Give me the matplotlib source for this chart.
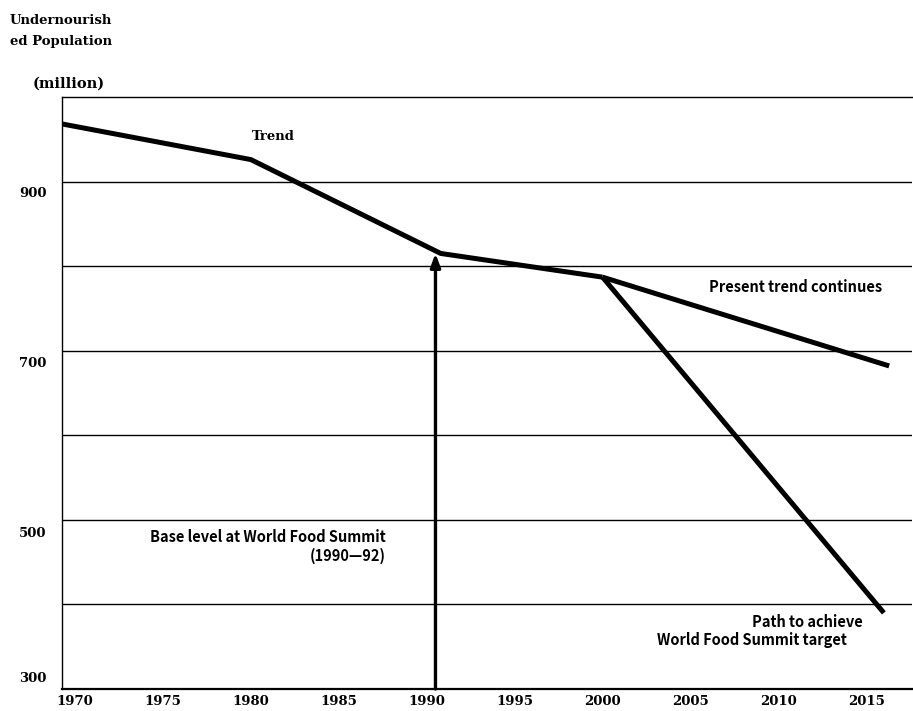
import matplotlib
matplotlib.use("Agg")
from matplotlib import pyplot as plt
from matplotlib.transforms import ScaledTranslation
import numpy as np

# data
trend_years = [1969.3, 1980, 1990.8, 2000]
trend_values = [968, 926, 815, 787]
present_years = [2000, 2016.3]
present_values = [787, 682]
target_years = [2000, 2016.0]
target_values = [787, 390]
base_year = 1990.5
base_value = 815

x_ticks = [1970, 1975, 1980, 1985, 1990, 1995, 2000, 2005, 2010, 2015]
y_ticks = [300, 500, 700, 900]
grid_levels = [400, 500, 600, 700, 800, 900]

serif = {"family": "DejaVu Serif", "weight": "bold", "size": 9.5}
sans = {"family": ["Noto Sans CJK SC", "DejaVu Sans"], "weight": "bold", "size": 10.5}

fig = plt.figure(figsize=(9.13, 7.11), dpi=100)
ax = fig.add_axes([62 / 913, 22 / 711, 850 / 913, 592 / 711])
ax.set_xlim(1969.26, 2017.6)
ax.set_ylim(300, 1000)

for lvl in grid_levels:
    ax.axhline(lvl, color="black", lw=1.0, zorder=1)

ax.plot(trend_years, trend_values, color="black", lw=3.6, solid_capstyle="butt", zorder=3)
ax.plot(present_years, present_values, color="black", lw=3.6, solid_capstyle="butt", zorder=3)
ax.plot(target_years, target_values, color="black", lw=3.6, solid_capstyle="butt", zorder=3)

ax.annotate("", xy=(base_year, base_value), xytext=(base_year, 300),
            arrowprops=dict(arrowstyle="-|>,head_width=0.3,head_length=0.8",
                            color="black", lw=2.4, shrinkA=0, shrinkB=0), zorder=4)

ax.spines["right"].set_visible(False)
ax.spines["top"].set_linewidth(1.0)
ax.spines["left"].set_linewidth(1.0)
ax.spines["bottom"].set_linewidth(1.6)

ax.set_xticks(x_ticks)
ax.set_yticks(y_ticks)
ax.tick_params(axis="x", length=0, pad=4)
ax.tick_params(axis="y", length=0, pad=11)
for lab in ax.get_xticklabels() + ax.get_yticklabels():
    lab.set_fontfamily(serif["family"])
    lab.set_fontweight("bold")
    lab.set_fontsize(serif["size"])

# y labels in the source sit a little off their gridlines
y_shift = {300: 12, 500: -12, 700: -11, 900: -10}
for val, lab in zip(y_ticks, ax.get_yticklabels()):
    lab.set_transform(lab.get_transform() + ScaledTranslation(0, y_shift[val] / 100, fig.dpi_scale_trans))

fig.text(10 / 913, 1 - 31 / 711, "Undernourish\ned Population", ha="left", va="center",
         linespacing=1.85, **serif)
fig.text(33 / 913, 1 - 84 / 711, "(million)", ha="left", va="center",
         family="DejaVu Serif", weight="bold", size=10.5)

ax.text(1981.3, 953, "Trend", ha="center", va="center", **serif)
ax.text(2011.0, 775, "Present trend continues", ha="center", va="center", **sans)
ax.text(1987.7, 480, "Base level at World Food Summit", ha="right", va="center", **sans)
ax.text(1987.7, 457, "(1990—92)", ha="right", va="center", **sans)
ax.text(2014.8, 379, "Path to achieve", ha="right", va="center", **sans)
ax.text(2013.9, 358, "World Food Summit target", ha="right", va="center", **sans)

fig.savefig("out.png", dpi=100)
